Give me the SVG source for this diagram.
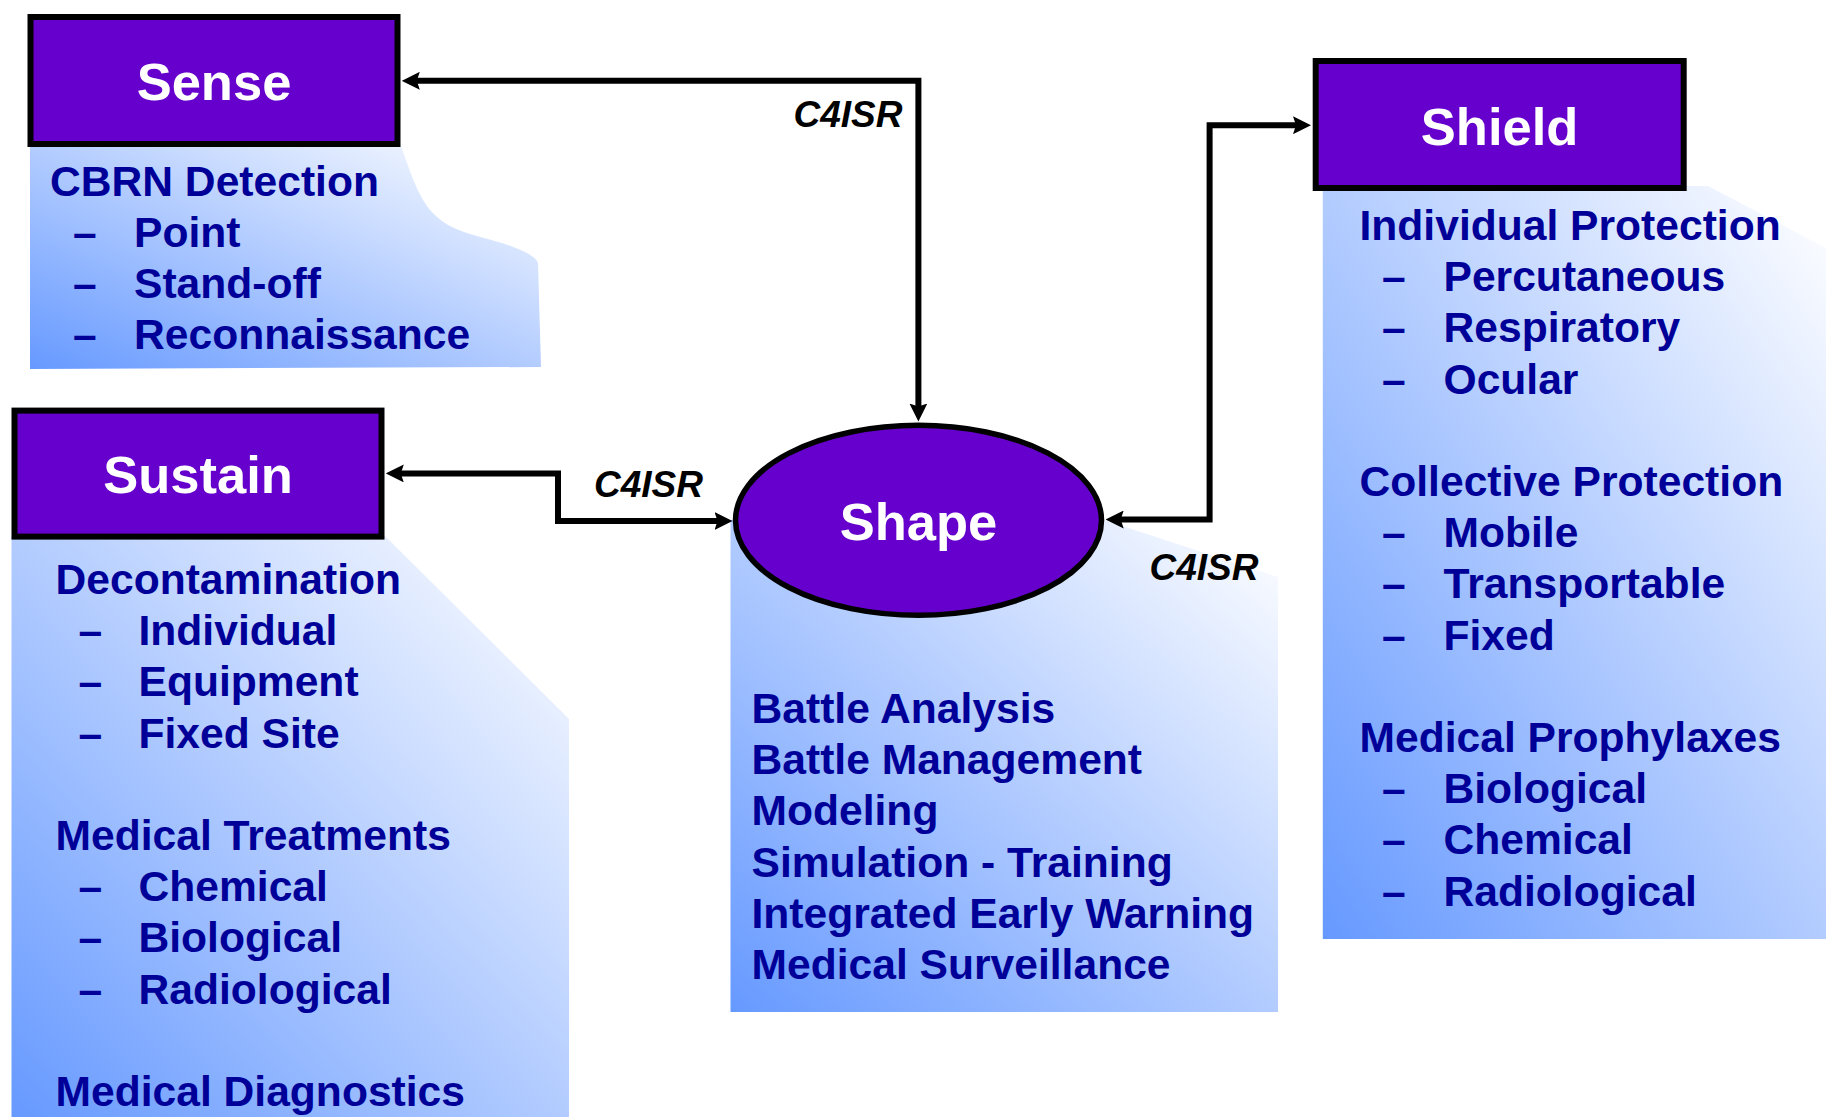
<svg xmlns="http://www.w3.org/2000/svg" width="1826" height="1117" viewBox="0 0 1826 1117">
<defs>
<linearGradient id="panelGrad" x1="0" y1="1" x2="1" y2="0">
<stop offset="0" stop-color="#6699FF"/>
<stop offset="1" stop-color="#FFFFFF"/>
</linearGradient>
<marker id="arrow" viewBox="0 0 18 18" markerUnits="userSpaceOnUse" markerWidth="18" markerHeight="18" refX="6" refY="9" orient="auto-start-reverse">
<path d="M0,0 L18,9 L0,18 L3,9 Z" fill="#000"/>
</marker>
<style>
.panel{fill:url(#panelGrad);stroke:none}
.box{fill:#6600CC;stroke:#000;stroke-width:6}
.title{font-family:"Liberation Sans",Arial,sans-serif;font-weight:bold;font-size:52.5px;fill:#FFFFFF;text-anchor:middle}
.item{font-family:"Liberation Sans",Arial,sans-serif;font-weight:bold;font-size:42.6px;fill:#000099}
.lbl{font-family:"Liberation Sans",Arial,sans-serif;font-weight:bold;font-style:italic;font-size:37px;fill:#000}
.conn{fill:none;stroke:#000;stroke-width:6;marker-start:url(#arrow);marker-end:url(#arrow)}
</style>
</defs>
<rect width="1826" height="1117" fill="#FFFFFF"/>

<g id="sense">
<path class="panel" d="M30,146 L401,146 C410,170 418,200 436,216 C452,232 480,236 505,244 C525,251 535,256 538,263 L541,367 L30,369 Z"/>
<rect class="box" x="30.5" y="17" width="367" height="127"/>
<text class="title" x="214" y="100">Sense</text>
<text class="item" x="50" y="195.5">CBRN Detection</text>
<text class="item" x="73" y="246.7">–</text><text class="item" x="134" y="246.7">Point</text>
<text class="item" x="73" y="297.9">–</text><text class="item" x="134" y="297.9">Stand-off</text>
<text class="item" x="73" y="349.1">–</text><text class="item" x="134" y="349.1">Reconnaissance</text>
</g>

<g id="sustain">
<path class="panel" d="M11.5,536 L385,536 L569,719 L569,1117 L11.5,1117 Z"/>
<rect class="box" x="14.5" y="410.6" width="367" height="126"/>
<text class="title" x="198" y="493">Sustain</text>
<text class="item" x="55.5" y="594">Decontamination</text>
<text class="item" x="78.5" y="645.2">–</text><text class="item" x="138.5" y="645.2">Individual</text>
<text class="item" x="78.5" y="696.4">–</text><text class="item" x="138.5" y="696.4">Equipment</text>
<text class="item" x="78.5" y="747.6">–</text><text class="item" x="138.5" y="747.6">Fixed Site</text>
<text class="item" x="55.5" y="850">Medical Treatments</text>
<text class="item" x="78.5" y="901.2">–</text><text class="item" x="138.5" y="901.2">Chemical</text>
<text class="item" x="78.5" y="952.4">–</text><text class="item" x="138.5" y="952.4">Biological</text>
<text class="item" x="78.5" y="1003.6">–</text><text class="item" x="138.5" y="1003.6">Radiological</text>
<text class="item" x="55.5" y="1106">Medical Diagnostics</text>
</g>

<g id="shape">
<path class="panel" d="M730.5,520 L1104,520 L1278,577 L1278,1012 L730.5,1012 Z"/>
<ellipse cx="918.5" cy="520.3" rx="183" ry="95" fill="#6600CC" stroke="#000" stroke-width="5.5"/>
<text class="title" x="918.5" y="540">Shape</text>
<text class="item" x="751.5" y="723">Battle Analysis</text>
<text class="item" x="751.5" y="774.2">Battle Management</text>
<text class="item" x="751.5" y="825.4">Modeling</text>
<text class="item" x="751.5" y="876.6">Simulation - Training</text>
<text class="item" x="751.5" y="927.8">Integrated Early Warning</text>
<text class="item" x="751.5" y="979">Medical Surveillance</text>
</g>

<g id="shield">
<path class="panel" d="M1322.8,186 L1708,186 L1826,248 L1826,939 L1322.8,939 Z"/>
<rect class="box" x="1315.7" y="61" width="368" height="127"/>
<text class="title" x="1499.6" y="144.5">Shield</text>
<text class="item" x="1359.5" y="240">Individual Protection</text>
<text class="item" x="1382" y="291.2">–</text><text class="item" x="1443.5" y="291.2">Percutaneous</text>
<text class="item" x="1382" y="342.4">–</text><text class="item" x="1443.5" y="342.4">Respiratory</text>
<text class="item" x="1382" y="393.6">–</text><text class="item" x="1443.5" y="393.6">Ocular</text>
<text class="item" x="1359.5" y="496">Collective Protection</text>
<text class="item" x="1382" y="547.2">–</text><text class="item" x="1443.5" y="547.2">Mobile</text>
<text class="item" x="1382" y="598.4">–</text><text class="item" x="1443.5" y="598.4">Transportable</text>
<text class="item" x="1382" y="649.6">–</text><text class="item" x="1443.5" y="649.6">Fixed</text>
<text class="item" x="1359.5" y="752">Medical Prophylaxes</text>
<text class="item" x="1382" y="803.2">–</text><text class="item" x="1443.5" y="803.2">Biological</text>
<text class="item" x="1382" y="854.4">–</text><text class="item" x="1443.5" y="854.4">Chemical</text>
<text class="item" x="1382" y="905.6">–</text><text class="item" x="1443.5" y="905.6">Radiological</text>
</g>

<g id="connectors">
<path class="conn" d="M413.8,80.8 L918.4,80.8 L918.4,409.5"/>
<path class="conn" d="M397.8,473.4 L558,473.4 L558,521 L720.5,521"/>
<path class="conn" d="M1117.7,519.5 L1209.6,519.5 L1209.6,125.2 L1299,125.2"/>
<text class="lbl" x="793.5" y="126.5">C4ISR</text>
<text class="lbl" x="594" y="497">C4ISR</text>
<text class="lbl" x="1149.5" y="580">C4ISR</text>
</g>
</svg>
